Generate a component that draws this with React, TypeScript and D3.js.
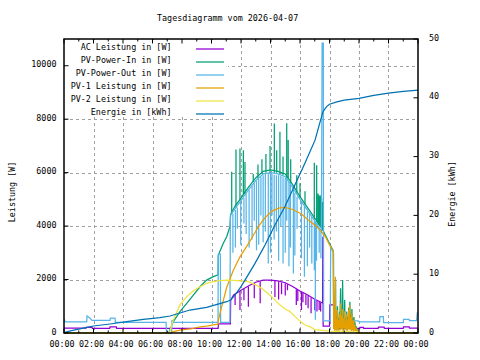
import React from "react";
import * as d3 from "d3";

const title = "Tagesdiagramm vom 2026-04-07";
const xMajorHours = [0, 2, 4, 6, 8, 10, 12, 14, 16, 18, 20, 22, 24];
const xTickLabels = ["00:00", "02:00", "04:00", "06:00", "08:00", "10:00", "12:00", "14:00", "16:00", "18:00", "20:00", "22:00", "00:00"];
const xMinorHours = [1, 3, 5, 7, 9, 11, 13, 15, 17, 19, 21, 23];
const yTicks = [0, 2000, 4000, 6000, 8000, 10000];
const y2Ticks = [0, 10, 20, 30, 40, 50];
const seriesNames = ["AC Leistung in [W]", "PV-Power-In in [W]", "PV-Power-Out in [W]", "PV-1 Leistung in [W]", "PV-2 Leistung in [W]", "Energie in [kWh]"];
const seriesColors = ["#9400d3", "#009e73", "#56b4e9", "#e69f00", "#f0e442", "#0072b2"];

// [hour, W]
const acBase: [number, number][] = [
  [0, 190], [0.08, 180], [1.5, 180], [1.52, 215], [1.9, 215], [1.92, 175], [3.1, 175], [3.12, 225], [3.55, 225], [3.57, 175],
  [10.45, 175], [10.47, 340], [11.28, 340], [11.3, 1230], [11.5, 1420], [12.0, 1600], [12.5, 1760], [13.0, 1900], [13.5, 1980],
  [14.0, 1980], [14.5, 1950], [15.0, 1880], [15.5, 1740], [16.0, 1570], [16.5, 1430], [17.0, 1260], [17.5, 1130], [17.53, 1120],
  [17.55, 3600], [17.57, 260], [18.0, 260], [18.02, 1050], [18.28, 1050], [18.3, 180], [20.05, 175], [20.07, 215], [20.3, 215],
  [20.32, 170], [21.3, 170], [21.32, 220], [21.7, 220], [21.72, 175], [23.0, 175], [23.02, 230], [23.4, 230], [23.42, 185], [24, 180],
];
// [hour, base, low]
const acSpikes: [number, number, number][] = [
  [11.6, 1450, 1050], [11.93, 1570, 860], [12.2, 1650, 1230], [12.5, 1740, 980], [12.9, 1870, 1300], [13.3, 1930, 1110],
  [14.3, 1950, 1350], [14.55, 1930, 1250], [14.75, 1890, 1450], [15.0, 1860, 1400], [15.15, 1820, 1600], [15.75, 1640, 1050],
  [15.85, 1610, 1200], [16.1, 1530, 860], [16.2, 1510, 1150], [16.4, 1440, 1050], [16.55, 1400, 930], [16.75, 1330, 740],
  [17.0, 1240, 850], [17.15, 1200, 800], [17.3, 1170, 860], [17.4, 1140, 800],
];

const pvInBase: [number, number][] = [
  [0, 0], [7.1, 0], [7.2, 150], [7.41, 420], [7.86, 800], [8.32, 1110], [8.77, 1420], [9.22, 1730], [9.67, 1980], [10.12, 2110],
  [10.44, 2180], [10.46, 2900], [10.6, 3100], [10.8, 3360], [11.03, 3600], [11.25, 3980], [11.3, 4450], [11.6, 4750], [12.0, 5050],
  [12.5, 5450], [13.0, 5800], [13.5, 6050], [14.0, 6100], [14.5, 6050], [15.0, 5950], [15.5, 5550], [16.0, 5100], [16.5, 4700],
  [17.0, 4300], [17.5, 3900], [18.0, 3350], [18.25, 3080],
  [18.27, 3000], [18.29, 200], [18.33, 700], [18.36, 100], [18.41, 2000], [18.43, 150], [18.47, 600], [18.5, 100], [18.54, 1000],
  [18.57, 150], [18.61, 550], [18.64, 100], [18.68, 800], [18.71, 250], [18.75, 1670], [18.78, 150], [18.82, 750], [18.85, 200],
  [18.89, 1980], [18.92, 100], [18.96, 650], [18.99, 250], [19.03, 1230], [19.06, 150], [19.1, 500], [19.13, 150], [19.17, 800],
  [19.2, 100], [19.24, 600], [19.27, 200], [19.31, 950], [19.34, 150], [19.38, 1170], [19.41, 200], [19.45, 700], [19.48, 100],
  [19.52, 900], [19.55, 150], [19.59, 550], [19.62, 100], [19.66, 600], [19.69, 150], [19.73, 400], [19.77, 60], [19.81, 250],
  [19.86, 50], [19.92, 100], [19.97, 0], [24, 0],
];
// [hour, base, high]
const pvInSpikes: [number, number, number][] = [
  [11.37, 4450, 6030], [11.66, 4700, 6870], [11.93, 4950, 6900], [12.16, 5150, 6840], [12.27, 5200, 6400], [12.83, 5650, 5950],
  [13.15, 5800, 6300], [13.42, 5950, 6500], [13.69, 6000, 6700], [13.97, 6000, 7000], [14.26, 6000, 7840], [14.42, 6000, 6840],
  [14.64, 5950, 7530], [14.85, 5900, 6600], [15.1, 5800, 7850], [15.2, 5750, 7220], [15.37, 5600, 6500], [15.78, 5250, 5900],
  [16.0, 5050, 5600], [16.34, 4800, 5300], [16.97, 4250, 6370], [17.13, 4150, 6280], [17.22, 4080, 5220], [17.27, 4050, 5150],
  [17.32, 4000, 5100], [17.37, 3980, 5150], [17.42, 3950, 5100], [17.47, 3900, 5050], [17.52, 3850, 4900],
];

const pvOutBase: [number, number][] = [
  [0, 520], [0.08, 420], [1.54, 420], [1.56, 640], [1.75, 560], [1.9, 470], [3.12, 470], [3.14, 560], [3.46, 560], [3.48, 400],
  [6.92, 400], [6.95, 0], [7.3, 0], [7.32, 490], [7.4, 400], [10.44, 400], [10.46, 2950], [10.6, 2950], [10.62, 400], [11.25, 400],
  [11.28, 4400], [11.6, 4650], [12.0, 4950], [12.5, 5350], [13.0, 5700], [13.5, 5950], [14.0, 6000], [14.5, 5950], [15.0, 5850],
  [15.5, 5450], [16.0, 5000], [16.5, 4600], [17.0, 4200], [17.45, 3800], [17.5, 10850], [17.58, 10850], [17.6, 450], [18.05, 450],
  [18.08, 3200], [18.25, 3050], [18.28, 450], [19.95, 450], [20.0, 420], [21.4, 420], [21.42, 610], [21.65, 610], [21.67, 385],
  [23.0, 385], [23.02, 510], [23.4, 510], [23.42, 460], [23.9, 460], [23.95, 750], [24, 750],
];
// [hour, base, low]
const pvOutSpikes: [number, number, number][] = [
  [11.45, 4450, 3000], [11.62, 4600, 3200], [11.75, 4700, 3900], [11.98, 4900, 3300], [12.2, 5050, 4100], [12.35, 5200, 3700],
  [12.55, 5350, 3200], [12.75, 5500, 3500], [12.9, 5600, 4200], [13.05, 5700, 3100], [13.2, 5780, 3300], [13.35, 5850, 4400],
  [13.5, 5900, 3400], [13.65, 5950, 3800], [13.85, 5950, 2600], [14.0, 5950, 3000], [14.1, 5950, 4400], [14.25, 5920, 3500],
  [14.4, 5900, 3800], [14.55, 5900, 2700], [14.7, 5880, 4000], [14.85, 5850, 2600], [15.0, 5800, 3000], [15.1, 5750, 4200],
  [15.25, 5650, 2500], [15.35, 5550, 3200], [15.55, 5350, 2230], [15.65, 5250, 2900], [15.8, 5100, 3900], [16.1, 4900, 2800],
  [16.3, 4750, 2100], [16.5, 4550, 2500], [16.65, 4450, 3200], [16.8, 4350, 2600], [16.97, 4200, 2350], [17.04, 4150, 500],
  [17.12, 4100, 2700], [17.3, 3900, 3000], [17.42, 3800, 2800],
];

const pv1: [number, number][] = [
  [0, 0], [7.15, 0], [7.4, 50], [7.86, 110], [8.54, 150], [9.22, 230], [9.67, 260], [10.12, 300], [10.44, 330], [10.47, 480],
  [10.6, 800], [11.03, 1700], [11.48, 2350], [11.93, 2850], [12.4, 3250], [12.83, 3650], [13.2, 4000], [13.6, 4300], [14.08, 4550],
  [14.53, 4670], [15.0, 4700], [15.5, 4620], [16.1, 4450], [16.56, 4230], [17.0, 4040], [17.36, 3850], [17.7, 3630], [18.0, 3300],
  [18.26, 3040], [18.28, 150], [18.32, 600], [18.35, 80], [18.4, 2100], [18.42, 100], [18.46, 500], [18.49, 60], [18.53, 860],
  [18.56, 120], [18.6, 450], [18.63, 80], [18.67, 700], [18.7, 200], [18.74, 1110], [18.77, 100], [18.81, 650], [18.84, 150],
  [18.88, 900], [18.91, 80], [18.95, 550], [18.98, 200], [19.02, 800], [19.05, 100], [19.09, 400], [19.12, 120], [19.16, 700],
  [19.19, 80], [19.23, 500], [19.26, 150], [19.3, 860], [19.33, 100], [19.37, 1050], [19.4, 150], [19.44, 600], [19.47, 80],
  [19.51, 740], [19.54, 100], [19.58, 450], [19.61, 60], [19.65, 500], [19.68, 100], [19.72, 300], [19.76, 40], [19.8, 200],
  [19.85, 30], [19.9, 80], [19.95, 0], [24, 0],
];

const pv2: [number, number][] = [
  [0, 0], [7.15, 0], [7.41, 490], [7.86, 1050], [8.32, 1360], [8.77, 1580], [9.22, 1730], [9.67, 1860], [10.12, 1920], [10.58, 1960],
  [11.03, 1980], [11.5, 1970], [11.93, 1950], [12.5, 1920], [13.0, 1800], [13.4, 1670], [14.08, 1360], [14.53, 1100], [15.0, 900],
  [15.32, 800], [15.88, 500], [16.34, 300], [16.7, 230], [17.0, 130], [17.5, 100], [18.0, 70], [19.0, 55], [19.95, 50], [20.0, 0], [24, 0],
];

// [hour, kWh]
const energy: [number, number][] = [
  [0.05, 0.1], [0.5, 0.4], [1.0, 0.65], [1.54, 0.97], [2.0, 1.19], [3.12, 1.53], [4.25, 1.92], [5.38, 2.33], [6.5, 2.6], [7.19, 2.89],
  [8.54, 3.91], [9.67, 4.37], [11.03, 5.32], [11.3, 5.61], [11.6, 6.5], [12.0, 7.9], [12.27, 9.0], [12.95, 11.85], [13.63, 14.97],
  [14.31, 18.4], [14.98, 21.5], [15.66, 25.2], [16.34, 28.9], [17.02, 32.8], [17.55, 37.6], [17.8, 38.5], [18.0, 38.9], [18.5, 39.3],
  [19.0, 39.6], [20.0, 39.9], [21.0, 40.4], [22.0, 40.8], [23.0, 41.1], [24.0, 41.3],
];

const L = 64, R = 418, T = 39, B = 333;
const FONT = "'DejaVu Sans Mono', monospace";

export default function App() {
  const x = d3.scaleLinear().domain([0, 24]).range([L, R]);
  const y = d3.scaleLinear().domain([0, 11000]).range([B, T]);
  const y2 = d3.scaleLinear().domain([0, 50]).range([B, T]);
  const line = d3.line<[number, number]>().x((d) => x(d[0])).y((d) => y(d[1]));
  const line2 = d3.line<[number, number]>().x((d) => x(d[0])).y((d) => y2(d[1]));
  const spikes = (arr: [number, number, number][]) =>
    arr.map((s) => `M${x(s[0])},${y(s[1])}L${x(s[0])},${y(s[2])}`).join("");

  const lw = 1.25;
  return (
    <svg width={480} height={360} style={{ position: "fixed", left: 0, top: 0, background: "#fff" }} fontFamily={FONT}>
      <rect x={0} y={0} width={480} height={360} fill="#fff" />
      {/* grid */}
      <g stroke="#a0a0a0" strokeWidth={1} strokeDasharray="3,3" shapeRendering="crispEdges">
        {xMajorHours.slice(1, -1).map((h) => (
          <line key={"gx" + h} x1={Math.round(x(h)) + 0.5} x2={Math.round(x(h)) + 0.5} y1={T} y2={B} />
        ))}
        {yTicks.slice(1).map((v) => (
          <line key={"gy" + v} x1={L} x2={R} y1={Math.round(y(v)) + 0.5} y2={Math.round(y(v)) + 0.5} />
        ))}
      </g>
      {/* legend box (opaque) */}
      <rect x={L + 1} y={T + 1} width={163} height={77} fill="#fff" />
      {/* series */}
      <g fill="none" strokeWidth={lw} strokeLinejoin="miter">
        <path d={line(acBase) || ""} stroke={seriesColors[0]} />
        <path d={spikes(acSpikes)} stroke={seriesColors[0]} />
        <path d={line(pvInBase) || ""} stroke={seriesColors[1]} />
        <path d={spikes(pvInSpikes)} stroke={seriesColors[1]} />
        <path d={line(pvOutBase) || ""} stroke={seriesColors[2]} />
        <path d={spikes(pvOutSpikes)} stroke={seriesColors[2]} />
        <path d={line(pv1) || ""} stroke={seriesColors[3]} />
        <path d={line(pv2) || ""} stroke={seriesColors[4]} />
        <path d={line2(energy) || ""} stroke={seriesColors[5]} />
      </g>
      {/* legend */}
      {seriesNames.map((n, i) => (
        <g key={n}>
          <text x={171.5} y={50 + 13 * i} fontSize={8.4} textAnchor="end" fill="#000">{n}</text>
          <line x1={196} x2={224} y1={49 + 13 * i} y2={49 + 13 * i} stroke={seriesColors[i]} strokeWidth={lw} />
        </g>
      ))}
      {/* border */}
      <rect x={L} y={T} width={R - L} height={B - T} fill="none" stroke="#000" strokeWidth={1.5} />
      {/* ticks */}
      <g stroke="#000" strokeWidth={1}>
        {xMajorHours.map((h) => (
          <g key={"tx" + h}>
            <line x1={x(h)} x2={x(h)} y1={B} y2={B - 4.5} />
            <line x1={x(h)} x2={x(h)} y1={T} y2={T + 4.5} />
          </g>
        ))}
        {xMinorHours.map((h) => (
          <g key={"mx" + h}>
            <line x1={x(h)} x2={x(h)} y1={B} y2={B - 2.5} />
            <line x1={x(h)} x2={x(h)} y1={T} y2={T + 2.5} />
          </g>
        ))}
        {yTicks.map((v) => (
          <line key={"ty" + v} x1={L} x2={L + 4.5} y1={y(v)} y2={y(v)} />
        ))}
        {y2Ticks.map((v) => (
          <line key={"ty2" + v} x1={R} x2={R - 4.5} y1={y2(v)} y2={y2(v)} />
        ))}
      </g>
      {/* tick labels */}
      <g fontSize={8.4} fill="#000">
        {xMajorHours.map((h, i) => (
          <text key={"lx" + i} x={x(h) - 2} y={347} textAnchor="middle">{xTickLabels[i]}</text>
        ))}
        {yTicks.map((v) => (
          <text key={"ly" + v} x={56.5} y={y(v) + 1.5} textAnchor="end">{v}</text>
        ))}
        {y2Ticks.map((v) => (
          <text key={"ly2" + v} x={429} y={y2(v) + 1.5} textAnchor="start">{v}</text>
        ))}
      </g>
      <text x={157} y={21} fontSize={8.4} fill="#000">{title}</text>
      <text transform="translate(15,192) rotate(-90)" fontSize={8.4} textAnchor="middle" fill="#000">Leistung [W]</text>
      <text transform="translate(455,194) rotate(-90)" fontSize={8.4} textAnchor="middle" fill="#000">Energie [kWh]</text>
    </svg>
  );
}
